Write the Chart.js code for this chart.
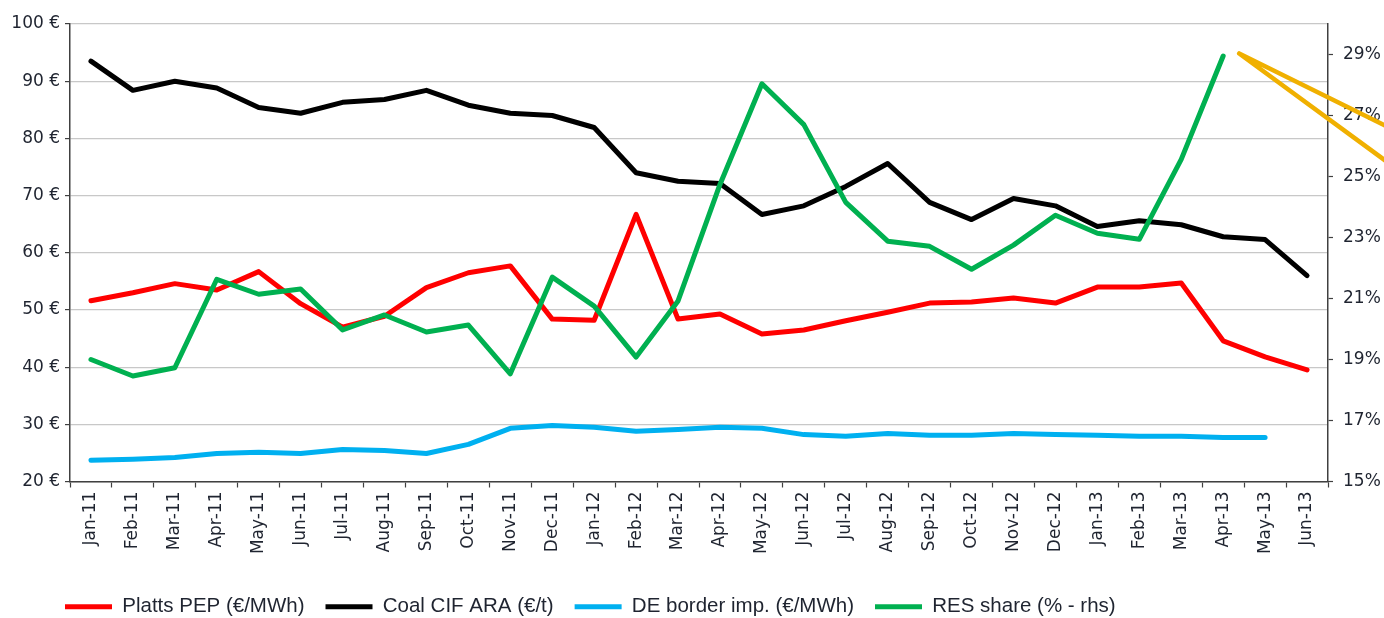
<!DOCTYPE html>
<html>
<head>
<meta charset="utf-8">
<script src="https://cdn.jsdelivr.net/npm/chart.js@4/dist/chart.umd.min.js"></script>
<style>
  html, body { margin: 0; padding: 0; background: #ffffff; }
  #wrap { width: 1384px; height: 618px; position: relative; }
</style>
</head>
<body>
<div id="wrap"><canvas id="c" width="1384" height="618"></canvas></div>
<script>
const months = ["Jan-11","Feb-11","Mar-11","Apr-11","May-11","Jun-11","Jul-11","Aug-11","Sep-11","Oct-11","Nov-11","Dec-11",
  "Jan-12","Feb-12","Mar-12","Apr-12","May-12","Jun-12","Jul-12","Aug-12","Sep-12","Oct-12","Nov-12","Dec-12",
  "Jan-13","Feb-13","Mar-13","Apr-13","May-13","Jun-13"];

const plattsPEP = [51.6,53.0,54.6,53.5,56.7,51.1,47.0,48.9,53.9,56.5,57.7,48.4,
  48.2,66.7,48.4,49.3,45.8,46.5,48.1,49.6,51.2,51.4,52.1,51.2,
  54.0,54.0,54.7,44.6,41.8,39.5];

const coalCIF = [93.5,88.4,90.0,88.8,85.4,84.4,86.3,86.8,88.4,85.8,84.4,84.0,
  81.9,74.0,72.5,72.1,66.7,68.2,71.6,75.6,68.8,65.8,69.5,68.2,
  64.6,65.6,64.9,62.8,62.3,56.0];

const deBorderImp = [23.7,23.9,24.2,24.9,25.1,24.9,25.6,25.4,24.9,26.5,29.3,29.8,
  29.5,28.8,29.1,29.5,29.3,28.2,27.9,28.4,28.1,28.1,28.4,28.2,
  28.1,27.9,27.9,27.7,27.7,null];

const resShare = [19.0,18.46,18.73,21.63,21.14,21.31,19.97,20.46,19.9,20.13,18.53,21.7,
  20.75,19.08,20.92,24.74,28.04,26.7,24.15,22.88,22.71,21.96,22.75,23.73,
  23.14,22.94,25.56,28.95,null,null];

const leftTicks = [20,30,40,50,60,70,80,90,100];
const rightTicks = [15,17,19,21,23,25,27,29];

const seriesNames = ["Platts PEP (\u20AC/MWh)","Coal CIF ARA (\u20AC/t)","DE border imp. (\u20AC/MWh)","RES share (% - rhs)"];
const seriesColors = ["#FF0000","#000000","#00B0F0","#00B050"];

const tickFont = { family: "'DejaVu Sans', Verdana, sans-serif", size: 17 };
const xFont = { family: "'DejaVu Sans', Verdana, sans-serif", size: 17 };
const textColor = "#1f2430";
const axisColor = "#404040";

function mk(i, data, axis, order) {
  return {
    label: seriesNames[i], data: data, yAxisID: axis,
    borderColor: seriesColors[i], backgroundColor: seriesColors[i],
    borderWidth: 5, pointRadius: 0, pointHoverRadius: 0, tension: 0,
    borderCapStyle: 'round', borderJoinStyle: 'round', fill: false, order: order
  };
}

const calloutPlugin = {
  id: 'callout',
  afterLayout(chart) {
    const lg = chart.legend;
    if (lg) { lg.left += 44; lg.right += 44; lg.top += 9; lg.bottom += 9; }
  },
  afterDatasetsDraw(chart) {
    const x = chart.scales.x, yr = chart.scales.y2;
    const sx = x.getPixelForValue(27) + 16;
    const sy = yr.getPixelForValue(29) - 1;
    const ctx = chart.ctx;
    ctx.save();
    ctx.strokeStyle = "#F0B000";
    ctx.lineWidth = 4.5;
    ctx.lineCap = 'round';
    const ex = chart.width + 5;
    ctx.beginPath();
    ctx.moveTo(sx, sy); ctx.lineTo(ex, sy + (ex - sx) * 0.493);
    ctx.moveTo(sx, sy); ctx.lineTo(ex, sy + (ex - sx) * 0.733);
    ctx.stroke();
    ctx.restore();
  }
};

new Chart(document.getElementById('c'), {
  type: 'line',
  data: {
    labels: months,
    datasets: [
      mk(0, plattsPEP, 'y', 4),
      mk(1, coalCIF, 'y', 3),
      mk(2, deBorderImp, 'y', 2),
      mk(3, resShare, 'y2', 1)
    ]
  },
  options: {
    responsive: false,
    animation: false,
    devicePixelRatio: 1,
    layout: { padding: { top: 24, left: 0, right: 0, bottom: 0 } },
    plugins: {
      tooltip: { enabled: false },
      legend: {
        position: 'bottom',
        align: 'start',
        labels: {
          boxWidth: 47, boxHeight: 5, padding: 21,
          color: textColor,
          font: { family: "'Liberation Sans', Arial, sans-serif", size: 20.5 },
          sort: (a, b) => a.datasetIndex - b.datasetIndex,
          generateLabels: (chart) => chart.data.datasets.map((d, i) => ({
            text: d.label, fillStyle: d.borderColor, strokeStyle: d.borderColor,
            lineWidth: 0, hidden: false, datasetIndex: i, fontColor: textColor
          }))
        }
      }
    },
    scales: {
      x: {
        type: 'category',
        offset: true,
        afterFit: (s) => { s.height = 85; },
        grid: { display: true, drawOnChartArea: false, offset: true, tickLength: 6, tickColor: axisColor, tickWidth: 1.2 },
        border: { display: true, color: axisColor, width: 1.5 },
        ticks: { autoSkip: false, maxRotation: 90, minRotation: 90, font: xFont, color: textColor, padding: 4 }
      },
      y: {
        position: 'left',
        min: 20, max: 100,
        afterFit: (s) => { s.width = 70; },
        afterBuildTicks: (s) => { s.ticks = leftTicks.map(v => ({ value: v })); },
        grid: { color: '#c8c8c8', lineWidth: 1.2, tickLength: 5, tickColor: axisColor, tickWidth: 1.2 },
        border: { display: true, color: axisColor, width: 1.5 },
        ticks: { font: tickFont, color: textColor, padding: 5, callback: (v) => v + ' \u20AC' }
      },
      y2: {
        position: 'right',
        min: 15, max: 30,
        afterFit: (s) => { s.width = 56; },
        afterBuildTicks: (s) => { s.ticks = rightTicks.map(v => ({ value: v })); },
        grid: { drawOnChartArea: false, tickLength: 5, tickColor: axisColor, tickWidth: 1.2 },
        border: { display: true, color: axisColor, width: 1.5 },
        ticks: { font: tickFont, color: textColor, padding: 10, callback: (v) => v + '%' }
      }
    }
  },
  plugins: [calloutPlugin]
});
</script>
</body>
</html>
